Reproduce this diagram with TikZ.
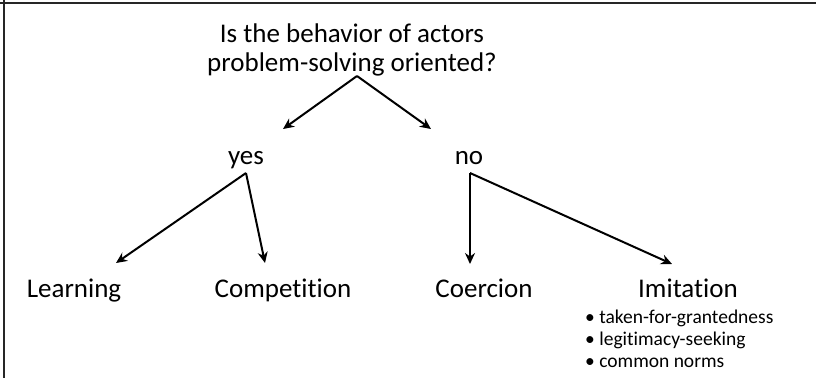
\documentclass[tikz,border=0pt]{standalone}
\usepackage{fontspec}
\setmainfont{Carlito}[Ligatures=NoCommon]
\usepackage{tikz}
\usetikzlibrary{arrows.meta, positioning}

\begin{document}
\begin{tikzpicture}[x=1pt, y=-1pt,
    lbl/.style={font=\fontsize{27}{29}\selectfont, inner sep=0pt, anchor=base},
    arr/.style={-{Stealth[length=11pt, width=10pt]}, line width=2pt}]
    \useasboundingbox (0,0) rectangle (816,378);
    % frame (only top and left edges visible)
    \draw[line width=2pt, black!85] (0,3) -- (816,3);
    \draw[line width=2pt, black!85] (4,0) -- (4,378);

    % question and answers
    \node[lbl, align=center, anchor=center] (q) at (352,50) {Is the behavior of actors\\problem-solving oriented?};
    \node[lbl] (yes) at (246,164) {yes};
    \node[lbl] (no) at (469,164) {no};

    % mechanisms
    \node[lbl] (learn) at (74,297) {Learning};
    \node[lbl] (comp) at (283,297) {Competition};
    \node[lbl] (coer) at (484,297) {Coercion};
    \node[lbl] (imit) at (688,297) {Imitation};
    \node[font=\fontsize{19.5}{22}\selectfont, align=left, anchor=north west, inner sep=0pt]
        (bul) at (585,310) {• taken-for-grantedness\\• legitimacy-seeking\\• common norms};

    % arrow end points
    \coordinate (qs) at (357,76);
    \coordinate (yesn) at (283,129);
    \coordinate (non) at (431,129);
    \coordinate (yess) at (246,173);
    \coordinate (nos) at (470,173);
    \coordinate (learnn) at (116,263);
    \coordinate (compn) at (265,263);
    \coordinate (coern) at (470,264);
    \coordinate (imitn) at (672,264);

    \draw[arr] (qs) -- (yesn);
    \draw[arr] (qs) -- (non);
    \draw[arr] (yess) -- (learnn);
    \draw[arr] (yess) -- (compn);
    \draw[arr] (nos) -- (coern);
    \draw[arr] (nos) -- (imitn);
\end{tikzpicture}
\end{document}
